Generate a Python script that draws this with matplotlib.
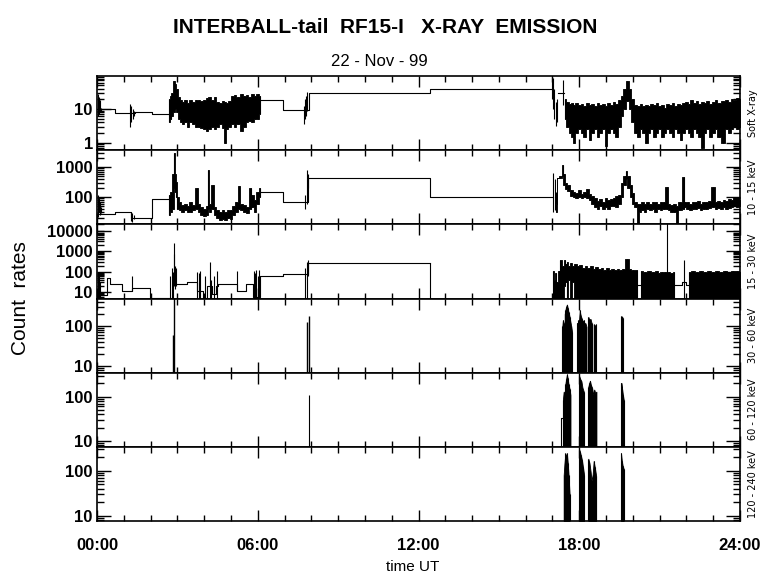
import numpy as np
import matplotlib
matplotlib.use("Agg")
import matplotlib.pyplot as plt
from matplotlib.ticker import FixedLocator, LogLocator, FuncFormatter, NullFormatter

nan = np.nan
plt.rcParams['font.family'] = ['Liberation Sans', 'DejaVu Sans']

# ---- panel 1: Soft X-ray ----
soft_step_t = [0.0, 0.67, 1.42, 2.05, 2.69, 6.09, 6.95, 7.9, 12.44, 17.0, 17.2, 17.42]
soft_step_v = [10, 7.6, 8.3, 7.0, nan, 19, 9.5, 30, 38, nan, 30, nan]
soft_spike_t = [0.02, 0.06, 0.1, 0.15, 1.24, 1.28, 1.33, 1.38, 7.72, 7.76, 7.8, 7.85,
                16.98, 17.02, 17.07, 17.12, 17.17, 17.4]
soft_spike_lo = [6.1, 7, 8, 9, 3.0, 4, 5, 6, 3.5, 5, 6, 9, 20, 10, 5, 3.1, 4, 13]
soft_spike_hi = [28, 22, 18, 11, 14, 12, 10, 9, 12, 20, 25, 32, 100, 81, 40, 16, 20, 72]
soft_band_t = [2.69, 2.75, 2.8, 2.87, 2.92, 2.97, 3.05, 3.12, 3.2, 3.3, 3.4, 3.5, 3.6, 3.7,
               3.8, 3.9, 4.0, 4.1, 4.2, 4.3, 4.4, 4.5, 4.6, 4.7, 4.78, 4.85, 4.95, 5.05,
               5.15, 5.25, 5.4, 5.5, 5.6, 5.7, 5.8, 5.9, 6.0, 6.08, nan,
               17.45, 17.55, 17.65, 17.75, 17.82, 17.9, 18.0, 18.1, 18.2, 18.3, 18.4,
               18.5, 18.6, 18.7, 18.8, 18.9, 19.0, 19.1, 19.2, 19.3, 19.4, 19.5, 19.6,
               19.7, 19.8, 19.9, 20.0, 20.1, 20.2, 20.3, 20.4, 20.5, 20.6, 20.7, 20.8,
               20.9, 21.0, 21.1, 21.2, 21.3, 21.4, 21.5, 21.6, 21.7, 21.8, 21.9, 22.0,
               22.1, 22.2, 22.3, 22.4, 22.5, 22.6, 22.7, 22.8, 22.9, 23.0, 23.1, 23.2,
               23.35, 23.5, 23.6, 23.7, 23.8, 23.9, 24.0]
soft_band_hi = [20, 25, 30, 66, 55, 40, 22, 18, 16, 19, 15, 18, 16, 19, 18, 17, 18, 21,
                23, 19, 22, 16, 15, 17, 16, 15, 17, 24, 26, 22, 27, 24, 26, 23, 27, 25,
                28, 25, nan,
                20, 16, 14, 15, 13, 15, 13, 14, 12, 15, 13, 14, 12, 15, 13, 14, 12, 15,
                13, 16, 14, 18, 25, 40, 66, 40, 20, 13, 12, 14, 12, 13, 12, 14, 13, 15,
                12, 13, 11, 14, 13, 15, 12, 14, 13, 15, 16, 14, 18, 15, 17, 14, 16, 15,
                17, 14, 16, 18, 15, 17, 19, 16, 20, 18, 21, 20]
soft_band_lo = [4, 5, 6, 8, 10, 8, 5, 4, 3.5, 4, 3, 4, 3.5, 3, 3, 2.8, 2.5, 2.2, 2.5, 3,
                2.5, 3, 3.5, 2.8, 1.0, 2.5, 3, 3.5, 3, 3.5, 2.2, 3, 4, 4.5, 4, 5, 5, 7, nan,
                5, 3, 2, 1.5, 1.0, 2, 2.5, 2, 1.5, 2.5, 1.2, 2, 2.5, 1.5, 2, 2.5, 0.8, 2,
                2.5, 2, 1.5, 3, 6, 10, 17, 10, 4, 2, 1.5, 2.5, 2, 1.0, 2, 2.5, 1.5, 2,
                2.5, 1.5, 2, 2.5, 2, 1.5, 2.5, 2, 1.2, 2, 2.5, 2, 1.5, 2.5, 2, 1.5, 0.7,
                2, 2.5, 1.5, 2, 2.5, 1.5, 1.0, 2.5, 2, 2.5, 3, 2.5, 3]

# ---- panel 2: 10 - 15 keV ----
lo_step_t = [0.0, 0.67, 1.27, 2.05, 2.69, 6.09, 6.95, 7.88, 12.44, 17.03]
lo_step_v = [27, 32, 20, 86, nan, 147, 68, 430, 100, nan]
lo_spike_t = [0.02, 0.06, 0.1, 0.15, 1.28, 1.32, 1.37, 7.78, 7.82, 7.86, 17.03, 17.08, 17.13]
lo_spike_lo = [21, 30, 25, 28, 15, 14, 18, 40, 60, 200, 32, 35, 60]
lo_spike_hi = [117, 90, 70, 45, 32, 28, 25, 120, 800, 600, 630, 400, 150]
lo_band_t = [2.69, 2.76, 2.84, 2.87, 2.92, 2.96, 3.0, 3.1, 3.2, 3.3, 3.4, 3.5, 3.6, 3.72,
             3.8, 3.9, 4.0, 4.1, 4.15, 4.2, 4.33, 4.4, 4.5, 4.6, 4.7, 4.8, 4.9, 5.0, 5.1,
             5.2, 5.3, 5.4, 5.5, 5.6, 5.73, 5.8, 5.9, 6.0, 6.08, nan,
             17.15, 17.2, 17.3, 17.38, 17.42, 17.5, 17.6, 17.7, 17.8, 17.9, 18.0, 18.1,
             18.2, 18.3, 18.4, 18.5, 18.6, 18.7, 18.8, 18.9, 19.0, 19.1, 19.2, 19.3,
             19.4, 19.5, 19.6, 19.7, 19.76, 19.84, 19.92, 20.0, 20.1, 20.2, 20.25, 20.35,
             20.45, 20.55, 20.65, 20.75, 20.85, 20.95, 21.05, 21.15, 21.28, 21.35, 21.45,
             21.55, 21.65, 21.75, 21.9, 21.95, 22.05, 22.15, 22.25, 22.35, 22.45, 22.55,
             22.65, 22.75, 22.85, 23.0, 23.1, 23.2, 23.3, 23.4, 23.5, 23.6, 23.7, 23.8,
             23.9, 24.0]
lo_band_lo = [25, 30, 40, 200, 150, 100, 40, 35, 30, 35, 32, 30, 35, 40, 30, 25, 22, 25,
              40, 30, 40, 25, 20, 17, 18, 17, 19, 18, 25, 32, 40, 35, 30, 28, 40, 45, 32,
              60, 100, nan,
              32, 430, 430, 500, 250, 180, 160, 110, 100, 95, 100, 90, 100, 95, 80, 60,
              45, 40, 50, 40, 45, 40, 48, 50, 45, 60, 100, 250, 400, 200, 100, 60, 45,
              12, 30, 35, 32, 40, 35, 38, 32, 40, 35, 38, 40, 35, 32, 30, 12, 35, 40, 45,
              40, 35, 40, 38, 42, 35, 40, 38, 42, 45, 40, 42, 38, 45, 40, 42, 45, 50, 45,
              50]
lo_band_hi = [117, 150, 600, 3000, 600, 315, 100, 68, 55, 60, 50, 65, 55, 200, 60, 45,
              40, 50, 800, 60, 250, 45, 35, 30, 37, 32, 35, 37, 50, 68, 230, 60, 55, 45,
              200, 117, 80, 150, 200, nan,
              60, 430, 500, 1170, 600, 300, 260, 170, 150, 140, 170, 130, 145, 180, 130,
              110, 90, 75, 85, 70, 90, 80, 85, 90, 110, 120, 300, 500, 740, 500, 250, 140,
              70, 60, 60, 65, 60, 70, 60, 65, 70, 60, 65, 70, 215, 60, 55, 60, 50, 65,
              460, 70, 65, 60, 70, 65, 72, 60, 68, 65, 75, 215, 70, 75, 68, 80, 72, 85,
              78, 90, 100, 80]

# ---- panel 3: 15 - 30 keV ----
mid_step_t = [0.0, 0.36, 0.49, 0.92, 1.3, 1.98, 2.73, 2.98, 3.35, 3.72, 3.95, 4.1, 4.3,
              4.45, 4.53, 5.22, 5.57, 5.84, 6.09, 6.94, 7.89, 12.44,
              20.16, 20.31, 21.52, 21.85, 22.0, 22.09]
mid_step_v = [7, 48, 26, 11, 17, 5.5, nan, 26, 30, 12, 5.5, 20, 8, 20, 26, 11, 26, 6,
              60, 76, 280, nan, 23, nan, 23, 30, 23, nan]
mid_spike_t = [0.02, 0.06, 0.1, 1.3, 2.73, 2.78, 2.83, 2.86, 2.89, 2.92, 2.95, 3.73, 3.8,
               3.86, 4.02, 4.2, 4.25, 4.35, 4.48, 5.22, 5.85, 5.9, 5.95, 6.0, 6.05, 7.78,
               7.82, 7.86, 12.44, 21.26, 21.9]
mid_spike_lo = [5, 5, 5, 11, 5, 5, 5, 20, 30, 15, 20, 5, 5, 5, 5, 5, 5, 5, 5, 11, 5, 5,
                5, 5, 5, 5, 5, 60, 5, 5, 5]
mid_spike_hi = [100, 60, 30, 60, 60, 160, 100, 2500, 700, 200, 150, 100, 90, 110, 60,
                300, 40, 60, 110, 110, 110, 90, 120, 60, 120, 150, 300, 370, 280, 30000,
                370]
mid_band_t = [17.02, 17.08, 17.12, 17.18, 17.23, 17.3, 17.38, 17.45, 17.5, 17.55, 17.62,
              17.7, 17.78, 17.85, 17.95, 18.05, 18.15, 18.25, 18.35, 18.45, 18.55, 18.65,
              18.75, 18.85, 18.95, 19.05, 19.15, 19.25, 19.35, 19.45, 19.55, 19.65, 19.8,
              19.9, 20.0, 20.16, nan,
              20.31, 20.45, 20.6, 20.75, 20.9, 20.96, 21.1, 21.2, 21.35, 21.45, 21.52, nan,
              22.09, 22.25, 22.4, 22.55, 22.7, 22.85, 23.0, 23.15, 23.3, 23.45, 23.6,
              23.75, 23.9, 24.0]
mid_band_lo = [5, 5, 5, 5, 5, 5, 5, 20, 30, 5, 40, 5, 30, 5, 5, 5, 5, 5, 5, 5, 5, 5, 5,
               5, 5, 5, 5, 5, 5, 5, 5, 5, 5, 5, 5, 5, nan,
               5, 5, 5, 5, 5, 5, 5, 5, 5, 5, 5, nan,
               5, 5, 5, 5, 5, 5, 5, 5, 5, 5, 5, 5, 5, 5]
mid_band_hi = [105, 40, 90, 30, 105, 370, 200, 370, 250, 300, 200, 260, 200, 230, 180,
               220, 160, 200, 150, 180, 140, 170, 130, 160, 125, 150, 120, 140, 115, 135,
               120, 140, 400, 130, 115, 125, nan,
               105, 100, 110, 100, 105, 90, 100, 95, 100, 90, 95, nan,
               100, 110, 95, 105, 100, 110, 95, 105, 100, 110, 100, 105, 110, 100]

# ---- panels 4-6: bursts ----
b30_spike_t = [2.85, 2.89, 7.85, 7.9]
b30_spike_hi = [60, 500, 125, 175]
b30_t = [17.37, 17.39, 17.42, nan, 17.46, 17.48, 17.51, 17.54, 17.57, 17.6, 17.64, 17.67,
         17.7, 17.73, nan, 17.92, 17.94, 17.97, 17.99, 18.02, 18.04, 18.07, 18.1, 18.13,
         18.17, 18.2, 18.23, 18.27, nan, 18.34, 18.38, 18.42, 18.46, nan, 18.54, 18.58,
         18.62, nan, 19.57, 19.6, 19.62]
b30_v = [100, 140, 120, nan, 200, 245, 300, 340, 280, 220, 170, 127, 100, 73, nan, 118,
         110, 140, 130, 245, 200, 168, 150, 127, 140, 110, 118, 96, nan, 168, 140, 150,
         120, nan, 110, 100, 110, nan, 175, 170, 160]

b60_spike_t = [7.9]
b60_spike_hi = [110]
b60_step_t = [17.33, 17.33, 17.41]
b60_step_v = [7, 33, 33]
b60_t = [17.39, 17.42, 17.45, 17.48, 17.51, 17.54, 17.57, 17.6, 17.64, 17.67, nan, 18.0,
         18.04, 18.08, 18.12, 18.17, nan, 18.34, 18.37, 18.4, 18.44, 18.48, 18.52, 18.56,
         18.6, 18.64, nan, 19.57, 19.6, 19.63, 19.66]
b60_v = [85, 130, 100, 190, 250, 320, 260, 190, 150, 110, nan, 290, 250, 225, 160, 130,
         nan, 170, 200, 230, 180, 160, 110, 145, 120, 130, nan, 205, 150, 110, 85]

b120_t = [17.42, 17.45, 17.48, 17.51, 17.54, 17.57, 17.6, 17.64, nan, 18.0, 18.03, 18.06,
          18.1, 18.14, 18.18, nan, 18.34, 18.38, 18.42, 18.46, 18.5, 18.54, 18.58, 18.63,
          nan, 19.56, 19.59, 19.62, 19.66]
b120_v = [82, 150, 245, 200, 245, 150, 82, 30, nan, 290, 260, 220, 175, 120, 82, nan,
          185, 150, 100, 60, 82, 165, 120, 78, nan, 245, 165, 130, 110]

channels = ["Soft X-ray", "10 - 15 keV", "15 - 30 keV", "30 - 60 keV",
            "60 - 120 keV", "120 - 240 keV"]
ylims = [(0.6, 95), (12, 3700), (5, 20000), (7, 480), (7.3, 350), (7.7, 340)]
hour_ticks = [0, 6, 12, 18, 24]
hour_labels = ["00:00", "06:00", "12:00", "18:00", "24:00"]


def pieces(t, *cols):
    t = np.asarray(t, float)
    cols = [np.asarray(c, float) for c in cols]
    cut = np.where(np.isnan(t))[0]
    for part in zip(np.split(t, cut), *[np.split(c, cut) for c in cols]):
        ok = ~np.isnan(part[0])
        yield [p[ok] for p in part]


def band(ax, t, lo, hi):
    # noisy stretches: filled between the lower and upper envelope
    for tt, ll, hh in pieces(t, lo, hi):
        ax.fill_between(tt, ll, hh, step='mid', facecolor='k', edgecolor='k', lw=0.6)
        ax.vlines(tt, ll, hh, color='k', lw=0.8)


def burst(ax, t, v):
    bottom = ax.get_ylim()[0]
    for tt, vv in pieces(t, v):
        ax.fill_between(tt, bottom, vv, facecolor='k', edgecolor='k', lw=0.6)
        ax.vlines(tt, bottom, vv, color='k', lw=0.8)


def step(ax, t, v):
    ax.plot(t, v, drawstyle='steps-post', color='k', lw=0.8)


fig = plt.figure(figsize=(7.8, 5.79), dpi=100)
axes = fig.subplots(6, 1, sharex=True, gridspec_kw=dict(hspace=0))
fig.subplots_adjust(left=0.1244, right=0.9487, top=0.8687, bottom=0.1002)

for ax, lim, name in zip(axes, ylims, channels):
    ax.set_yscale('log')
    ax.set_ylim(*lim)
    ax.set_xlim(0, 24)
    ax.yaxis.set_major_locator(LogLocator(base=10, numticks=20))
    ax.yaxis.set_minor_locator(LogLocator(base=10, subs=np.arange(2, 10), numticks=20))
    ax.yaxis.set_major_formatter(FuncFormatter(lambda v, p: f"{v:g}"))
    ax.yaxis.set_minor_formatter(NullFormatter())
    ax.xaxis.set_major_locator(FixedLocator(hour_ticks))
    ax.xaxis.set_minor_locator(FixedLocator(range(25)))
    ax.tick_params(which='both', direction='in', top=True, right=True, width=1)
    ax.tick_params(axis='x', which='major', length=8)
    ax.tick_params(axis='x', which='minor', length=4)
    ax.tick_params(axis='y', which='major', length=10, pad=3)
    ax.tick_params(axis='y', which='minor', length=5)
    for lab in ax.get_yticklabels():
        lab.set_fontsize(12)
        lab.set_fontweight('bold')
    for sp in ax.spines.values():
        sp.set_linewidth(1.2)
    ax.text(1.02, 0.5, name, transform=ax.transAxes, rotation=90,
            ha='center', va='center', fontsize=7, family='DejaVu Sans')

ax = axes[0]
step(ax, soft_step_t, soft_step_v)
ax.vlines(soft_spike_t, soft_spike_lo, soft_spike_hi, color='k', lw=0.8)
band(ax, soft_band_t, soft_band_lo, soft_band_hi)

ax = axes[1]
step(ax, lo_step_t, lo_step_v)
ax.vlines(lo_spike_t, lo_spike_lo, lo_spike_hi, color='k', lw=0.8)
band(ax, lo_band_t, lo_band_lo, lo_band_hi)

ax = axes[2]
step(ax, mid_step_t, mid_step_v)
ax.vlines(mid_spike_t, mid_spike_lo, mid_spike_hi, color='k', lw=0.8)
band(ax, mid_band_t, mid_band_lo, mid_band_hi)

ax = axes[3]
ax.vlines(b30_spike_t, ax.get_ylim()[0], b30_spike_hi, color='k', lw=1.0)
burst(ax, b30_t, b30_v)

ax = axes[4]
ax.vlines(b60_spike_t, ax.get_ylim()[0], b60_spike_hi, color='k', lw=0.8)
step(ax, b60_step_t, b60_step_v)
burst(ax, b60_t, b60_v)

ax = axes[5]
burst(ax, b120_t, b120_v)

for ax, lim in zip(axes, ylims):
    ax.set_ylim(*lim)
    ax.set_xlim(0, 24)

axes[-1].set_xticklabels(hour_labels, fontsize=12, fontweight='bold')
axes[-1].tick_params(axis='x', which='major', pad=12)

fig.text(0.494, 0.953, "INTERBALL-tail  RF15-I   X-RAY  EMISSION",
         ha='center', va='center', fontsize=15, fontweight='bold')
fig.text(0.486, 0.893, "22 - Nov - 99", ha='center', va='center', fontsize=12)
fig.text(0.026, 0.485, "Count  rates", rotation=90, ha='center', va='center', fontsize=15)
fig.text(0.529, 0.021, "time UT", ha='center', va='center', fontsize=11)

fig.savefig("out.png", dpi=100)
